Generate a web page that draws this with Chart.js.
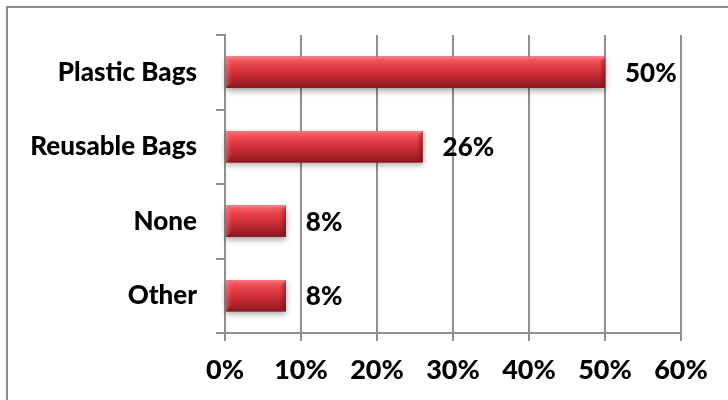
<!DOCTYPE html>
<html>
<head>
<meta charset="utf-8">
<script src="https://cdn.jsdelivr.net/npm/chart.js@4/dist/chart.umd.min.js"></script>
<style>
    html, body { margin: 0; padding: 0; background: #fff; }
    #frame {
        position: absolute; left: 6px; top: 6px; width: 740px; height: 420px;
        border-top: 2px solid #8c8c8c; border-left: 2px solid #8c8c8c;
    }
    #wrap { position: absolute; left: 0; top: 0; width: 728px; height: 400px; }
</style>
</head>
<body>
<div id="frame"></div>
<div id="wrap"><canvas id="bag-chart" width="728" height="400"></canvas></div>
<script>
// --- Data ---
const categories = ['Plastic Bags', 'Reusable Bags', 'None', 'Other'];
const shares = [50, 26, 8, 8];
const axisMax = 60;
const axisStep = 10;

const FONT = 'Lato, "Open Sans", sans-serif';
const WEIGHT = '900';

// Glossy red bars with a soft drop shadow and bevelled ends
const bevelBars = {
    id: 'bevelBars',
    afterDatasetsDraw(chart) {
        const ctx = chart.ctx;
        chart.getDatasetMeta(0).data.forEach(bar => {
            const { x, y, base, height } = bar.getProps(['x', 'y', 'base', 'height'], true);
            const left = Math.min(base, x), right = Math.max(base, x);
            const top = y - height / 2, bottom = y + height / 2;
            const w = right - left;

            ctx.save();
            ctx.shadowColor = 'rgba(0,0,0,0.35)';
            ctx.shadowBlur = 6;
            ctx.shadowOffsetY = 3;
            const g = ctx.createLinearGradient(0, top, 0, bottom);
            g.addColorStop(0, '#f66a72');
            g.addColorStop(0.25, '#e9434c');
            g.addColorStop(0.6, '#c62a33');
            g.addColorStop(1, '#8a181e');
            ctx.fillStyle = g;
            ctx.fillRect(left, top, w, height);
            ctx.restore();

            // right end, darker bevel
            ctx.save();
            const bw = Math.min(6, w / 3);
            const gr = ctx.createLinearGradient(right - bw, 0, right, 0);
            gr.addColorStop(0, 'rgba(100,12,18,0)');
            gr.addColorStop(1, 'rgba(100,12,18,0.5)');
            ctx.fillStyle = gr;
            ctx.beginPath();
            ctx.moveTo(right - bw, top + bw);
            ctx.lineTo(right, top);
            ctx.lineTo(right, bottom);
            ctx.lineTo(right - bw, bottom - bw);
            ctx.closePath();
            ctx.fill();

            // soft highlight along the top edge and upper-left corner
            const gl = ctx.createLinearGradient(left, 0, left + bw, 0);
            gl.addColorStop(0, 'rgba(255,170,175,0.35)');
            gl.addColorStop(1, 'rgba(255,170,175,0)');
            ctx.fillStyle = gl;
            ctx.beginPath();
            ctx.moveTo(left, top);
            ctx.lineTo(left + bw, top + bw);
            ctx.lineTo(left + bw, bottom - bw);
            ctx.lineTo(left, bottom);
            ctx.closePath();
            ctx.fill();
            ctx.fillStyle = 'rgba(255,160,165,0.3)';
            ctx.fillRect(left, top, w, 2);
            ctx.restore();
        });
    }
};

// Percent labels after each bar
const valueLabels = {
    id: 'valueLabels',
    afterDatasetsDraw(chart) {
        const ctx = chart.ctx;
        ctx.save();
        ctx.font = WEIGHT + ' 26px ' + FONT;
        ctx.fillStyle = '#000';
        ctx.textAlign = 'left';
        ctx.textBaseline = 'middle';
        chart.getDatasetMeta(0).data.forEach((bar, i) => {
            ctx.fillText(shares[i] + '%', bar.x + 20, bar.y + 1);
        });
        ctx.restore();
    }
};

new Chart(document.getElementById('bag-chart').getContext('2d'), {
    type: 'bar',
    data: {
        labels: categories,
        datasets: [{
            data: shares,
            backgroundColor: '#c42c35',
            borderWidth: 0,
            barPercentage: 0.42,
            categoryPercentage: 1
        }]
    },
    options: {
        indexAxis: 'y',
        responsive: false,
        animation: false,
        events: [],
        layout: { padding: { top: 35, right: 47, left: 0, bottom: 0 } },
        plugins: { legend: { display: false }, tooltip: { enabled: false } },
        scales: {
            x: {
                min: 0,
                max: axisMax,
                ticks: {
                    stepSize: axisStep,
                    color: '#000',
                    padding: 13,
                    font: { family: FONT, size: 27, weight: WEIGHT },
                    callback: v => v + '%'
                },
                grid: { color: '#8e8e8e', lineWidth: 2, tickLength: 8 },
                border: { color: '#8e8e8e', width: 2 },
                afterFit: scale => { scale.height = 67; }
            },
            y: {
                ticks: {
                    color: '#000',
                    padding: 19,
                    font: { family: FONT, size: 26, weight: WEIGHT }
                },
                grid: { drawOnChartArea: false, color: '#8e8e8e', lineWidth: 2, tickLength: 9 },
                border: { color: '#8e8e8e', width: 2 },
                afterFit: scale => { scale.width = 225; }
            }
        }
    },
    plugins: [bevelBars, valueLabels]
});
</script>
</body>
</html>
